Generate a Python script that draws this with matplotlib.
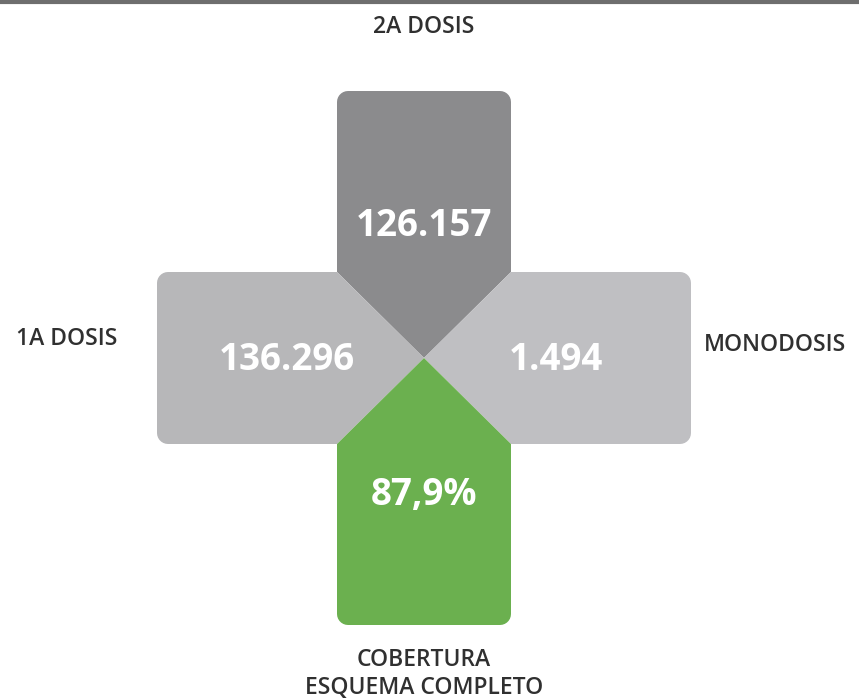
import numpy as np
import matplotlib
matplotlib.use("Agg")
import matplotlib.pyplot as plt
from matplotlib.patches import Polygon

plt.rcParams['font.family'] = ['Open Sans', 'DejaVu Sans']

# data
arms = ['top', 'left', 'right', 'bottom']
labels = ['2A DOSIS', '1A DOSIS', 'MONODOSIS', 'COBERTURA\nESQUEMA COMPLETO']
values = ['126.157', '136.296', '1.494', '87,9%']
colors = ['#8b8b8d', '#b7b7b9', '#bfbfc2', '#6bb04f']

cx, cy = 424, 358      # centre of the cross (pixels, y down)
hw, hh = 87, 86        # half width of vertical arm / half height of horizontal arm
reach = 267            # distance from centre to outer edge
rad = 11               # corner radius


def arm_shape(kind):
    # pentagon pointing to the centre, outer corners rounded
    t = np.radians(np.linspace(0, 90, 8))
    c, s = np.cos(t), np.sin(t)
    if kind == 'top':
        y0 = cy - reach
        pts = [(cx - hw, cy - hh)]
        pts += list(zip(cx - hw + rad - rad * c, y0 + rad - rad * s))
        pts += list(zip(cx + hw - rad + rad * s, y0 + rad - rad * c))
        pts += [(cx + hw, cy - hh), (cx, cy)]
    elif kind == 'bottom':
        y0 = cy + reach
        pts = [(cx + hw, cy + hh)]
        pts += list(zip(cx + hw - rad + rad * c, y0 - rad + rad * s))
        pts += list(zip(cx - hw + rad - rad * s, y0 - rad + rad * c))
        pts += [(cx - hw, cy + hh), (cx, cy)]
    elif kind == 'left':
        x0 = cx - reach
        pts = [(cx - hw, cy + hh)]
        pts += list(zip(x0 + rad - rad * s, cy + hh - rad + rad * c))
        pts += list(zip(x0 + rad - rad * c, cy - hh + rad - rad * s))
        pts += [(cx - hw, cy - hh), (cx, cy)]
    else:
        x0 = cx + reach
        pts = [(cx + hw, cy - hh)]
        pts += list(zip(x0 - rad + rad * s, cy - hh + rad - rad * c))
        pts += list(zip(x0 - rad + rad * c, cy + hh - rad + rad * s))
        pts += [(cx + hw, cy + hh), (cx, cy)]
    return pts


fig = plt.figure(figsize=(8.59, 7.0), dpi=100)
ax = fig.add_axes([0, 0, 1, 1])
ax.set_xlim(0, 859)
ax.set_ylim(700, 0)
ax.axis('off')

# thin dark line at top (scan edge)
ax.axhline(1.5, color='#6e6e6e', lw=3)

for kind, col in zip(arms, colors):
    ax.add_patch(Polygon(arm_shape(kind), closed=True, facecolor=col, edgecolor='none'))

val_pos = {'top': (cx, 226), 'left': (287, 360), 'right': (556, 360), 'bottom': (cx, 495)}
lab_pos = {'top': (424, 27), 'left': (67, 339), 'right': (775, 345), 'bottom': (cx, 674)}

for kind, lab, val in zip(arms, labels, values):
    vx, vy = val_pos[kind]
    ax.text(vx, vy, val, color='white', fontsize=26.5, fontweight='bold', ha='center', va='center')
    lx, ly = lab_pos[kind]
    ax.text(lx, ly, lab, color='#303030', fontsize=16.5, fontweight='semibold',
            ha='center', va='center', linespacing=1.2)

fig.savefig('out.png', dpi=100)
